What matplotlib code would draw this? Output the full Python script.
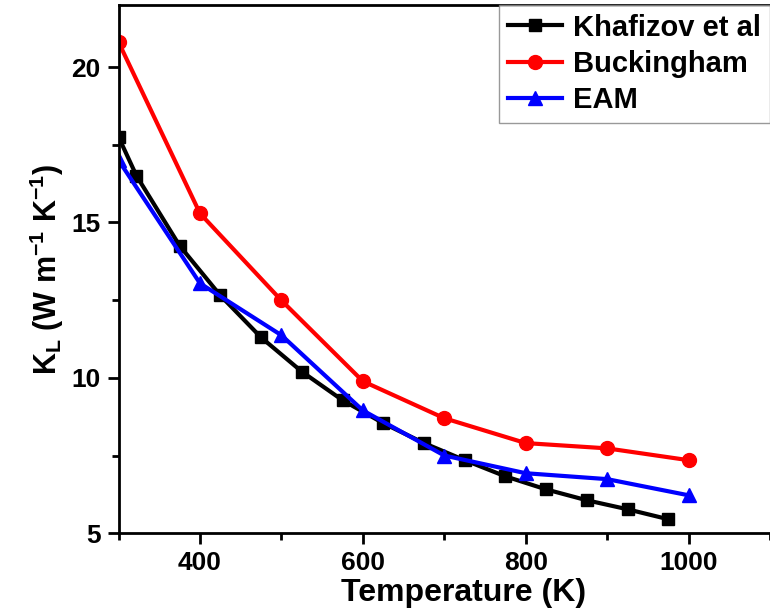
import matplotlib
matplotlib.use('Agg')
import matplotlib.pyplot as plt
from matplotlib.ticker import MultipleLocator

plt.rcParams['font.family'] = ['Liberation Sans', 'DejaVu Sans']
plt.rcParams['font.weight'] = 'bold'
plt.rcParams['mathtext.fontset'] = 'custom'
plt.rcParams['mathtext.bf'] = 'Liberation Sans:bold'
plt.rcParams['mathtext.rm'] = 'Liberation Sans:bold'
plt.rcParams['mathtext.default'] = 'bf'

# data
t_khaf = [300, 322, 375, 425, 475, 525, 575, 625, 675, 725, 775, 825, 875, 925, 975]
k_khaf = [17.75, 16.5, 14.25, 12.65, 11.3, 10.2, 9.28, 8.54, 7.9, 7.35, 6.83, 6.41, 6.06, 5.77, 5.45]
t_sim = [300, 400, 500, 600, 700, 800, 900, 1000]
k_buck = [20.8, 15.29, 12.49, 9.89, 8.7, 7.9, 7.73, 7.35]
k_eam = [17.0, 13.04, 11.37, 8.95, 7.5, 6.93, 6.74, 6.22]

fig = plt.figure(figsize=(7.7, 6.15), dpi=100)
ax = fig.add_axes([0.154, 0.133, 0.846, 0.859])

ax.plot(t_khaf, k_khaf, '-s', color='black', lw=3, ms=9, label='Khafizov et al')
ax.plot(t_sim, k_buck, '-o', color='red', lw=3, ms=10, label='Buckingham')
ax.plot(t_sim, k_eam, '-^', color='blue', lw=3, ms=10, label='EAM')

ax.set_xlim(300, 1100)
ax.set_ylim(5, 22)
ax.xaxis.set_major_locator(MultipleLocator(200))
ax.xaxis.set_minor_locator(MultipleLocator(100))
ax.yaxis.set_major_locator(MultipleLocator(5))
ax.yaxis.set_minor_locator(MultipleLocator(2.5))
ax.set_xticks([400, 600, 800, 1000])

for s in ['left', 'bottom', 'top']:
    ax.spines[s].set_linewidth(2)
ax.spines['right'].set_visible(False)
ax.tick_params(which='major', direction='out', length=8, width=2, labelsize=19, pad=5)
ax.tick_params(which='minor', direction='out', length=5, width=2)
ax.tick_params(top=False, right=False)

ax.set_xlabel('Temperature (K)', fontsize=23, fontweight='bold')
ax.xaxis.set_label_coords(0.53, -0.085)
ax.set_ylabel(r'K$_L$ (W m$^{-1}$ K$^{-1}$)', fontsize=22, fontweight='bold', labelpad=4)

leg = ax.legend(loc='upper right', bbox_to_anchor=(1.0, 1.0), borderaxespad=0,
                fontsize=21, frameon=True, fancybox=False, handlelength=1.85,
                handletextpad=0.4, labelspacing=0.28, borderpad=0.3)
leg.get_frame().set_edgecolor('gray')
leg.get_frame().set_linewidth(1)
for t in leg.get_texts():
    t.set_fontweight('bold')

fig.savefig('out.png', dpi=100)
